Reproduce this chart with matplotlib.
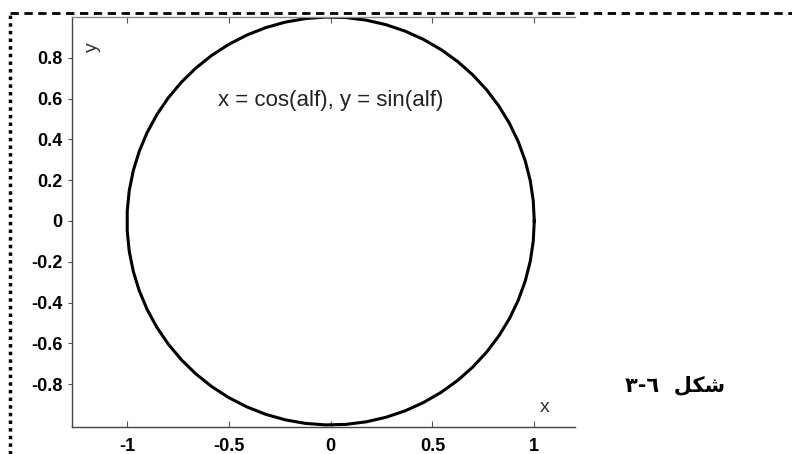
import matplotlib.pyplot as plt
import numpy as np
from matplotlib.lines import Line2D

# parametre de la courbe
alf = np.linspace(0, 2 * np.pi, 64)
x = np.cos(alf)
y = np.sin(alf)

xticks = [-1, -0.5, 0, 0.5, 1]
xtick_labels = ['-1', '-0.5', '0', '0.5', '1']
yticks = [-0.8, -0.6, -0.4, -0.2, 0, 0.2, 0.4, 0.6, 0.8]
ytick_labels = ['-0.8', '-0.6', '-0.4', '-0.2', '0', '0.2', '0.4', '0.6', '0.8']

titre = 'x = cos(alf), y = sin(alf)'
# "figure 3-6" written in visual order with presentation forms
legende_fig = '\u0663-\u0666  \uFEDE\uFEDC\uFEB7'

plt.rcParams['font.family'] = ['Liberation Sans', 'DejaVu Sans']

fig = plt.figure(figsize=(7.92, 4.54), dpi=100)
ax = fig.add_axes([72 / 792, 27 / 454, 503 / 792, 410 / 454])

ax.plot(x, y, color='black', linewidth=2.2)

ax.set_xlim(-1.27, 1.2)
ax.set_ylim(-1.01, 1.0)

ax.set_xticks(xticks)
ax.set_xticklabels(xtick_labels, fontsize=13, fontweight='bold')
ax.set_yticks(yticks)
ax.set_yticklabels(ytick_labels, fontsize=13, fontweight='bold')
ax.tick_params(axis='x', direction='in', length=4, width=0.8, color='#555555',
               top=True, pad=8)
ax.tick_params(axis='y', direction='out', length=3, width=0.8, color='#555555',
               pad=4)

for side in ['left', 'bottom', 'top']:
    ax.spines[side].set_color('#444444')
    ax.spines[side].set_linewidth(1.0)
ax.spines['top'].set_color('#888888')
ax.spines['right'].set_visible(False)

ax.set_xlabel('x', fontsize=14, color='#333333')
ax.xaxis.set_label_coords(0.94, 0.068)
ax.set_ylabel('y', fontsize=14, color='#333333')
ax.yaxis.set_label_coords(0.058, 0.927)

ax.text(0.0, 0.59, titre, fontsize=16, ha='center', va='center', color='#222222')

# cadre pointille de la page
fig.add_artist(Line2D([10 / 792, 1.0], [1 - 13 / 454, 1 - 13 / 454],
                      transform=fig.transFigure, color='black', linewidth=2,
                      linestyle=(0, (3, 2))))
fig.add_artist(Line2D([10 / 792, 10 / 792], [0, 1 - 13 / 454],
                      transform=fig.transFigure, color='black', linewidth=2.5,
                      linestyle=(0, (1, 1.2))))

fig.text(675 / 792, 1 - 385 / 454, legende_fig, fontsize=15, fontweight='bold',
         ha='center', va='center', family=['DejaVu Sans'])

fig.savefig('out.png', dpi=100, facecolor='white')
